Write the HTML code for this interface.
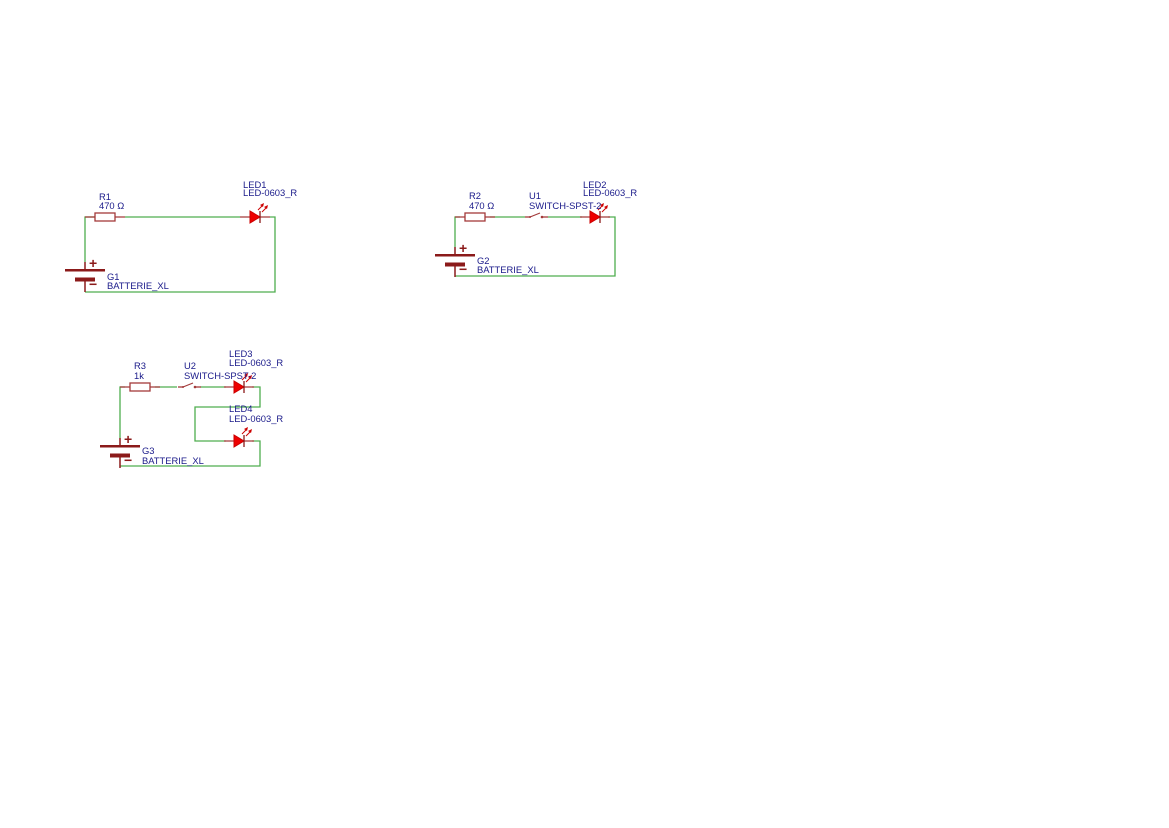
<!DOCTYPE html>
<html><head><meta charset="utf-8"><style>
html,body{margin:0;padding:0;background:#fff;width:1169px;height:828px;overflow:hidden}
text{font-family:"Liberation Sans",sans-serif;font-size:9.4px;fill:#1a1a8a}
</style></head><body>
<svg id="s" width="1169" height="828" viewBox="0 0 1169 828" xmlns="http://www.w3.org/2000/svg">
<g fill="none" stroke="#4fae4f" stroke-width="1.3">
<polyline points="85,262 85,217 95,217"/>
<polyline points="125,217 240,217"/>
<polyline points="270,217 275,217 275,292 85,292"/>
<polyline points="455,247 455,217 460,217"/>
<polyline points="490,217 525,217"/>
<polyline points="548,217 582,217"/>
<polyline points="608,217 615,217 615,276 455,276"/>
<polyline points="120,438 120,387 125,387"/>
<polyline points="155,387 177,387"/>
<polyline points="200,387 226,387"/>
<polyline points="252,387 260,387 260,407 195,407 195,441 226,441"/>
<polyline points="252,441 260,441 260,466 120,466"/>
</g>
<g id="comp"></g>
<text x="99" y="200">R1</text><text x="99" y="209">470 Ω</text>
<text x="243" y="188">LED1</text><text x="243" y="196">LED-0603_R</text>
<text x="107" y="280">G1</text><text x="107" y="289">BATTERIE_XL</text>
<text x="469" y="199">R2</text><text x="469" y="209">470 Ω</text>
<text x="529" y="199">U1</text><text x="529" y="209">SWITCH-SPST-2</text>
<text x="583" y="188">LED2</text><text x="583" y="196">LED-0603_R</text>
<text x="477" y="264">G2</text><text x="477" y="273">BATTERIE_XL</text>
<text x="134" y="369">R3</text><text x="134" y="379">1k</text>
<text x="184" y="369">U2</text><text x="184" y="379">SWITCH-SPST-2</text>
<text x="229" y="357">LED3</text><text x="229" y="366">LED-0603_R</text>
<text x="229" y="412">LED4</text><text x="229" y="422">LED-0603_R</text>
<text x="142" y="454">G3</text><text x="142" y="464">BATTERIE_XL</text>
</svg>
<script>
var g=document.getElementById('comp'),h='';
var R='#a33a3a',D='#8b1a1a';
function res(x,y){h+='<line x1="'+(x-10)+'" y1="'+y+'" x2="'+(x+30)+'" y2="'+y+'" stroke="'+R+'" stroke-width="1.3"/><rect x="'+x+'" y="'+(y-4)+'" width="20" height="8" fill="#fff" stroke="'+R+'" stroke-width="1.3"/>';}
function led(x,y){h+='<line x1="'+(x-10)+'" y1="'+y+'" x2="'+(x+20)+'" y2="'+y+'" stroke="'+R+'" stroke-width="1.3"/><polygon points="'+x+','+(y-6)+' '+x+','+(y+6)+' '+(x+10)+','+y+'" fill="#e00" stroke="#c00"/><line x1="'+(x+10)+'" y1="'+(y-6)+'" x2="'+(x+10)+'" y2="'+(y+6)+'" stroke="'+D+'" stroke-width="1.3"/>';
 h+='<line x1="'+(x+8)+'" y1="'+(y-7)+'" x2="'+(x+13)+'" y2="'+(y-12)+'" stroke="#c00"/><polygon points="'+(x+14)+','+(y-14)+' '+(x+10)+','+(y-12)+' '+(x+13)+','+(y-10)+'" fill="#c00"/><line x1="'+(x+12)+'" y1="'+(y-5)+'" x2="'+(x+17)+'" y2="'+(y-10)+'" stroke="#c00"/><polygon points="'+(x+18)+','+(y-12)+' '+(x+14)+','+(y-10)+' '+(x+17)+','+(y-8)+'" fill="#c00"/>';}
function sw(x,y){h+='<line x1="'+(x-5)+'" y1="'+y+'" x2="'+x+'" y2="'+y+'" stroke="'+R+'" stroke-width="1.3"/><line x1="'+(x+12)+'" y1="'+y+'" x2="'+(x+18)+'" y2="'+y+'" stroke="'+R+'" stroke-width="1.3"/><line x1="'+x+'" y1="'+y+'" x2="'+(x+10)+'" y2="'+(y-4)+'" stroke="'+R+'" stroke-width="1.2"/><circle cx="'+(x+12)+'" cy="'+y+'" r="1.3" fill="'+R+'"/><circle cx="'+x+'" cy="'+y+'" r="1" fill="'+R+'"/>';}
function bat(x,y){h+='<line x1="'+x+'" y1="'+(y-8)+'" x2="'+x+'" y2="'+y+'" stroke="'+D+'" stroke-width="1.5"/><line x1="'+x+'" y1="'+(y+9)+'" x2="'+x+'" y2="'+(y+22)+'" stroke="'+D+'" stroke-width="1.5"/><rect x="'+(x-20)+'" y="'+(y-1)+'" width="40" height="2.5" fill="'+D+'"/><rect x="'+(x-10)+'" y="'+(y+7.5)+'" width="20" height="4" fill="'+D+'"/><text x="'+(x+4)+'" y="'+(y-2)+'" style="fill:'+D+';font-size:14px;font-weight:bold">+</text><text x="'+(x+4)+'" y="'+(y+19)+'" style="fill:'+D+';font-size:14px;font-weight:bold">−</text>';}
res(95,217);led(250,217);bat(85,270);
res(465,217);sw(530,217);led(590,217);bat(455,255);
res(130,387);sw(183,387);led(234,387);led(234,441);bat(120,446);
g.innerHTML=h;
</script>
</body></html>
